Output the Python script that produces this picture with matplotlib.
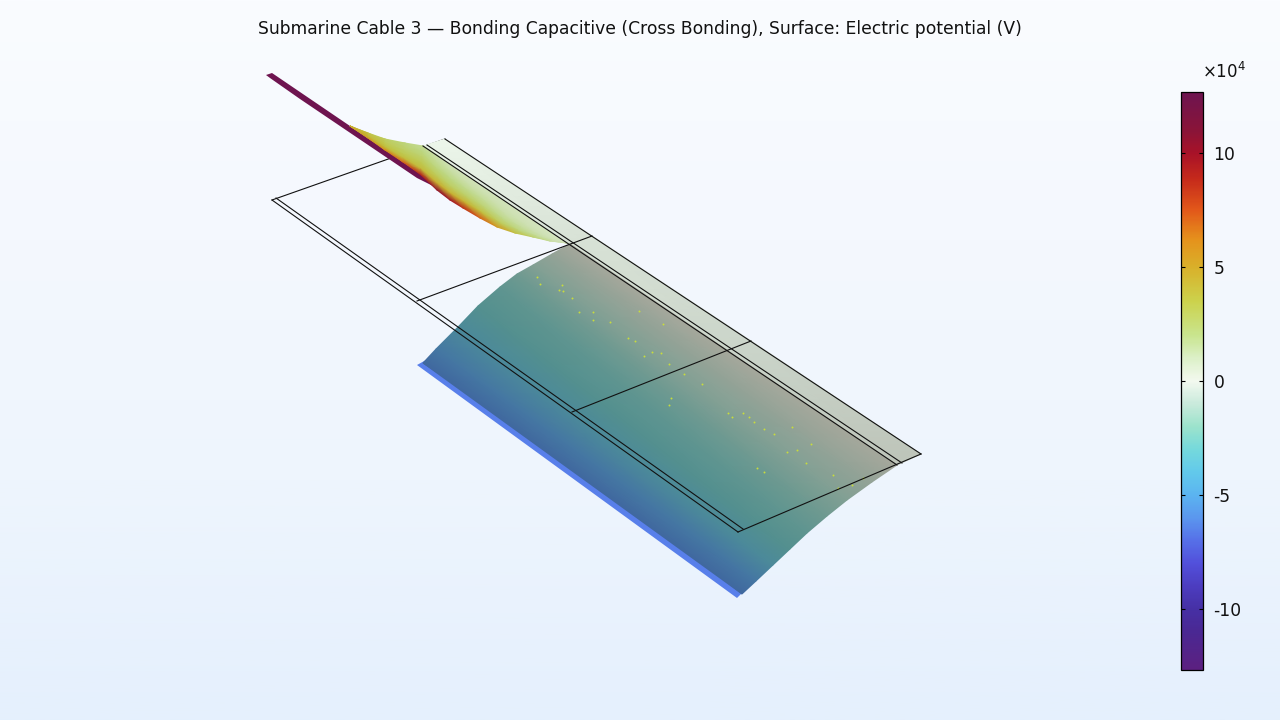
import matplotlib
matplotlib.use("Agg")
import matplotlib.pyplot as plt
import numpy as np
from matplotlib.cm import ScalarMappable
from matplotlib.colors import LinearSegmentedColormap, Normalize

W, H = 1280, 720

title = "Submarine Cable 3 \u2014 Bonding Capacitive (Cross Bonding), Surface: Electric potential (V)"

# colour scale, values in 1e4 V
vmin, vmax = -12.67, 12.67
scale_values = [-12.67, -11, -10, -9, -8, -7, -6, -5, -4, -3, -2, -1, 0,
                1, 2, 3.5, 5, 6.2, 7.5, 8.9, 10, 11, 12.67]
scale_colors = ["#5c2080", "#4a2893", "#4630a5", "#4c3dc0", "#5250db", "#5670e8",
                "#5b97ee", "#5bb4f0", "#62c9eb", "#75d9dc", "#9ce3cc", "#c9eadb", "#f3f9ef",
                "#dcf0c8", "#c9e58f", "#ccd24c", "#d9b02a", "#e5921c", "#e2581a", "#c5291b",
                "#a81228", "#8a1438", "#6d1450"]
cbar_ticks = [10, 5, 0, -5, -10]
cbar_labels = ["10", "5", "0", "-5", "-10"]

# background, top to bottom
bg_colors = ["#fafcff", "#f4f8fe", "#eef5fd", "#e5f0fd"]

# wire frame of the cable layout (screen pixels)
wire_back = [((272, 200), (445, 139))]
wire_front = [((272, 200), (738, 532)), ((276, 198), (743, 529)),
              ((423, 146), (897, 465)), ((427, 145), (902, 463)),
              ((445, 139), (921, 454)), ((417, 301), (592, 236)),
              ((572, 412), (751, 341)), ((738, 532), (921, 454))]

# pale band along the far side
band_near_x = [423, 572, 730, 897]
band_near_y = [146, 246, 353, 465]
band_far_x = [445, 592, 751, 921]
band_far_y = [139, 236, 341, 454]
band_colors = ["#ecf6ea", "#d8e2d6", "#cbd5ca", "#bec5ba"]

# big lower sheet: one row per entry, from the blue edge up to the far line
low_left_x = [423, 436, 458, 478, 500, 517, 533, 552, 570]
low_left_y = [363, 349, 327, 306, 287, 274, 265, 254, 244]
low_right_x = [742, 756, 773, 790, 807, 827, 847, 872, 897]
low_right_y = [594, 581, 565, 549, 533, 516, 500, 482, 465]
low_colors = ["#40689f", "#4577a3", "#4c8a9a", "#54908f", "#5f9590",
              "#6f9a91", "#82a094", "#94a397", "#a6a89c"]

# blue edge under the lower sheet
edge_x = [417, 426, 745, 737]
edge_y = [365, 360, 590, 598]
edge_value = -6.6

# dark strip at the top left
strip_x = [266, 272, 350, 425, 433, 417, 300, 270]
strip_y = [75, 73, 126, 177, 186, 178, 99, 78]
strip_value = 12.6

# small upper sheet: stations along the cable
up_top_x = [350, 368, 385, 405, 423, 437, 452, 470, 490, 510, 530, 550, 558, 567]
up_top_y = [126, 133, 139, 143, 146, 155, 166, 178, 191, 205, 218, 232, 238, 243]
up_bot_x = [350, 368, 385, 403, 420, 437, 450, 463, 480, 497, 515, 533, 550, 567]
up_bot_y = [126, 138, 150, 162, 174, 190, 200, 208, 218, 227, 233, 237, 241, 243]
# potential (1e4 V) per station, from top edge to bottom edge
up_values = [[4.6, 4.6, 4.6, 4.6, 4.6, 4.6],
             [3.6, 3.8, 4.0, 4.2, 4.6, 5.5],
             [2.8, 3.0, 3.2, 3.5, 4.2, 6.0],
             [2.2, 2.4, 2.8, 3.2, 4.0, 7.0],
             [1.6, 2.0, 2.6, 3.2, 4.0, 9.0],
             [1.2, 1.6, 2.2, 3.0, 4.5, 10.5],
             [1.0, 1.4, 2.0, 2.8, 4.4, 10.0],
             [0.9, 1.2, 1.8, 2.7, 4.4, 8.8],
             [0.9, 1.1, 1.6, 2.4, 3.8, 7.2],
             [0.9, 1.0, 1.3, 1.9, 3.0, 5.5],
             [0.8, 0.9, 1.1, 1.5, 2.2, 3.8],
             [0.8, 0.85, 0.95, 1.2, 1.6, 2.6],
             [0.75, 0.8, 0.85, 1.0, 1.2, 1.7],
             [0.7, 0.7, 0.7, 0.7, 0.7, 0.7]]

# mesh specks on the lower sheet
speck_x = [537, 540, 562, 559, 563, 572, 579, 593, 593, 610, 639, 663, 628, 635,
           644, 652, 661, 669, 684, 702, 671, 669, 728, 732, 743, 749, 754,
           764, 774, 792, 811, 787, 797, 757, 764, 833, 838, 852, 863, 806]
speck_y = [277, 284, 285, 290, 291, 298, 312, 312, 320, 322, 311, 324, 338, 341,
           356, 352, 353, 364, 374, 384, 398, 405, 413, 417, 413, 417, 422,
           429, 434, 427, 444, 452, 450, 468, 472, 475, 488, 485, 478, 463]
speck_color = "#c8dc3c"


def shade_map(colors):
    return LinearSegmentedColormap.from_list("shade", colors, N=256)


def grid_between(ax_a, ay_a, ax_b, ay_b, n):
    # rows between two edges, n points across
    t = np.linspace(0, 1, n)[None, :]
    ax_a, ay_a = np.array(ax_a, float)[:, None], np.array(ay_a, float)[:, None]
    ax_b, ay_b = np.array(ax_b, float)[:, None], np.array(ay_b, float)[:, None]
    return ax_a + (ax_b - ax_a) * t, ay_a + (ay_b - ay_a) * t


positions = [(v - vmin) / (vmax - vmin) for v in scale_values]
potential_cmap = LinearSegmentedColormap.from_list("potential", list(zip(positions, scale_colors)), N=512)
norm = Normalize(vmin, vmax)

# same scale slightly dimmed, the sheet is lit in the 3D view
lit = potential_cmap(np.linspace(0, 1, 512))
lit[:, :3] *= [0.94, 0.94, 0.91]
lit_cmap = LinearSegmentedColormap.from_list("lit", lit, N=512)

fig = plt.figure(figsize=(W / 100, H / 100), dpi=100)
ax = fig.add_axes([0, 0, 1, 1])

ax.imshow(np.linspace(0, 1, 256)[:, None], cmap=shade_map(bg_colors), aspect="auto",
          extent=(0, W, H, 0), zorder=0)

for (p, q) in wire_back:
    ax.plot([p[0], q[0]], [p[1], q[1]], color="#111111", lw=0.8, zorder=1)

# band
bx, by = grid_between(band_near_x, band_near_y, band_far_x, band_far_y, 2)
bc = np.repeat(np.arange(len(band_colors))[:, None], 2, axis=1)
ax.pcolormesh(bx, by, bc, shading="gouraud", cmap=shade_map(band_colors), zorder=2)

# lower sheet and its blue edge
ax.fill(edge_x, edge_y, color=potential_cmap(norm(edge_value)), lw=0, zorder=3)
lx, ly = grid_between(low_left_x, low_left_y, low_right_x, low_right_y, 2)
lc = np.repeat(np.arange(len(low_colors))[:, None], 2, axis=1)
ax.pcolormesh(lx, ly, lc, shading="gouraud", cmap=shade_map(low_colors), zorder=4)
ax.scatter(speck_x, speck_y, s=2, color=speck_color, lw=0, zorder=5)

# upper sheet and dark strip
ax.fill(strip_x, strip_y, color=potential_cmap(norm(strip_value)), lw=0, zorder=6)
ux, uy = grid_between(up_top_x, up_top_y, up_bot_x, up_bot_y, len(up_values[0]))
ax.pcolormesh(ux, uy, np.array(up_values), shading="gouraud", cmap=lit_cmap, norm=norm, zorder=7)

for (p, q) in wire_front:
    ax.plot([p[0], q[0]], [p[1], q[1]], color="#111111", lw=0.8, zorder=8)

ax.set_xlim(0, W)
ax.set_ylim(H, 0)
ax.axis("off")

ax.text(640, 29, title, ha="center", va="center", fontsize=12.3, color="#111111", zorder=9)
ax.text(1202, 72, r"$\times$10$^{4}$", ha="left", va="center", fontsize=12, color="#111111",
        math_fontfamily="dejavusans", zorder=9)

# colour bar
cax = fig.add_axes([1181 / W, 1 - 670 / H, 22 / W, 578 / H])
fig.colorbar(ScalarMappable(norm=norm, cmap=potential_cmap), cax=cax)
cax.set_yticks(cbar_ticks)
cax.set_yticklabels(cbar_labels, fontsize=12.3, color="#111111")
cax.tick_params(axis="y", which="both", left=True, right=True, direction="in", length=3.2, width=0.8,
                pad=7.5)
cax.minorticks_off()
for spine in cax.spines.values():
    spine.set_linewidth(0.9)

fig.savefig("out.png", dpi=100)
